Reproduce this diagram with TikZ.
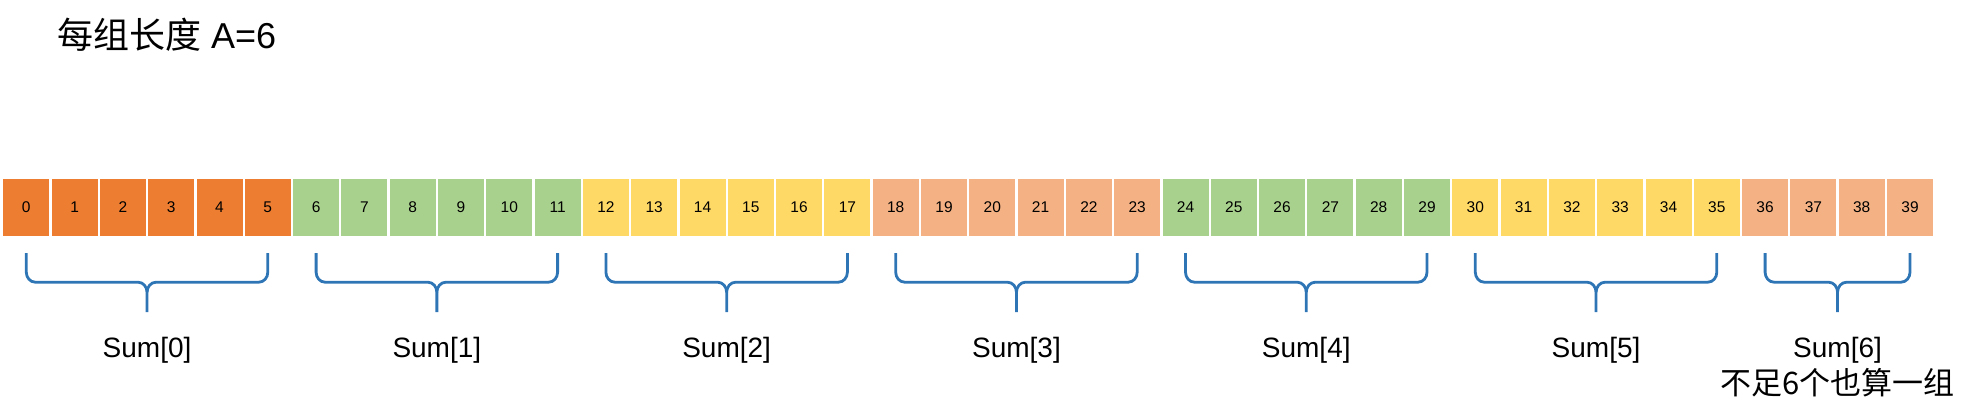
\documentclass[tikz,border=0pt]{standalone}
\usepackage{fontspec}
\setmainfont{Liberation Sans}
\newfontfamily\cjk{Noto Sans CJK SC}
\usepackage{xcolor}
\usetikzlibrary{positioning,calc}

\definecolor{cellOrange}{HTML}{ED7D31}
\definecolor{cellGreen}{HTML}{A9D18E}
\definecolor{cellYellow}{HTML}{FFD966}
\definecolor{cellSalmon}{HTML}{F4B183}
\definecolor{braceBlue}{HTML}{2E75B6}

\tikzset{
	cell/.style={minimum width=46pt, minimum height=57pt, inner sep=0pt, font=\fontsize{15.5}{18}\selectfont},
	groupbrace/.style={draw=braceBlue, line width=2.8pt, line join=round},
	sumlabel/.style={font=\fontsize{28}{32}\selectfont, inner sep=0pt},
}

\begin{document}
\begin{tikzpicture}[x=1pt, y=-1pt]
		\useasboundingbox (0,0) rectangle (1966,420);
		\node[anchor=west, inner sep=0pt, font=\fontsize{36}{40}\selectfont] (title) at (57,35) {{\cjk 每组长度} A=6};
		\foreach \g/\col/\n in {0/cellOrange/6, 1/cellGreen/6, 2/cellYellow/6, 3/cellSalmon/6, 4/cellGreen/6, 5/cellYellow/6, 6/cellSalmon/4} {
			\foreach \k in {1,...,\n} {
				\pgfmathtruncatemacro{\i}{6*\g+\k-1}
				\node[cell, fill=\col] (c\i) at (26.3+48.3*\i, 207.5) {\i};
			}
		}
		\foreach \g/\a/\b in {0/0/5, 1/6/11, 2/12/17, 3/18/23, 4/24/29, 5/30/35, 6/36/39} {
			\coordinate (L\g) at ([yshift=-17pt]c\a.south);
			\coordinate (R\g) at ([yshift=-17pt]c\b.south);
			\coordinate (M\g) at ($(L\g)!.5!(R\g)$);
			\draw[groupbrace] (L\g) -- ++(0,19) to[out=-90,in=180] ++(9,10) -- ($(M\g)+(-9,29)$) to[out=0,in=90] ++(9,10) -- ++(0,20);
			\draw[groupbrace] (R\g) -- ++(0,19) to[out=-90,in=0] ++(-9,10) -- ($(M\g)+(9,29)$) to[out=180,in=90] ++(-9,10);
			\node[sumlabel] (s\g) at ($(M\g)+(0,97)$) {Sum[\g]};
		}
		\node[inner sep=0pt, font=\fontsize{31}{36}\selectfont\cjk] (note) at ($(s6)+(0,32)$) {不足6个也算一组};
	\end{tikzpicture}
\end{document}
